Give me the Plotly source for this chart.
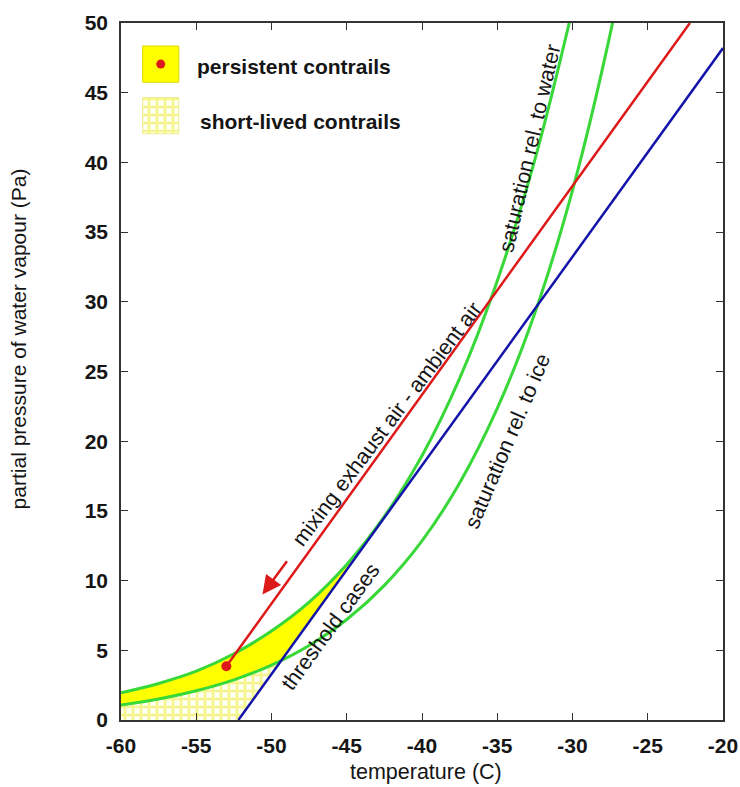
import plotly.graph_objects as go

# ---------------- data ----------------
water_T = [-60, -57.5, -55, -52.5, -50, -47.5, -45, -42.5, -40, -37.5, -35, -32.5, -30]
water_p = [1.95, 2.62, 3.50, 4.75, 6.38, 8.45, 11.15, 14.6, 18.95, 24.5, 31.5, 40.2, 51.0]

ice_T = [-60, -57.5, -55, -52.5, -50, -47.5, -45, -42.5, -40, -37.5, -35, -32.5, -30, -27.5, -25]
ice_p = [1.08, 1.51, 2.10, 2.88, 3.94, 5.35, 7.21, 9.66, 12.85, 17.0, 22.35, 29.2, 38.0, 49.2, 63.0]

mixing_T = [-53.0, -22.2]
mixing_p = [3.85, 50.0]

threshold_T = [-52.2, -20.0]
threshold_p = [0.0, 48.2]

dot_T = [-53.0]
dot_p = [3.85]

arrow_tail = (-48.9, 11.5)
arrow_head = (-50.6, 9.0)

persistent_limit_T = -42.5   # yellow band ends where threshold touches water curve
shortlived_limit_T = -47.5

x_ticks = [-60, -55, -50, -45, -40, -35, -30, -25, -20]
x_ticktext = ["-60", "-55", "-50", "-45", "-40", "-35", "-30", "-25", "-20"]
y_ticks = [0, 5, 10, 15, 20, 25, 30, 35, 40, 45, 50]
y_ticktext = ["0", "5", "10", "15", "20", "25", "30", "35", "40", "45", "50"]

# ---------------- styling ----------------
GREEN = "#38d838"
RED = "#dd1a1a"
BLUE = "#1414aa"
YELLOW = "#ffff00"
FONT = "Liberation Sans, Arial, sans-serif"
INK = "#151515"

fig = go.Figure()

ice_sub_T = [t for t in ice_T if t <= persistent_limit_T]
ice_sub_p = [p for t, p in zip(ice_T, ice_p) if t <= persistent_limit_T]
water_sub_T = [t for t in water_T if t <= persistent_limit_T]
water_sub_p = [p for t, p in zip(water_T, water_p) if t <= persistent_limit_T]
short_T = [t for t in ice_T if t <= shortlived_limit_T]
short_p = [p for t, p in zip(ice_T, ice_p) if t <= shortlived_limit_T]

checker = dict(shape="+", fgcolor="#eeea28", bgcolor="#fffff2", size=8, solidity=0.55)

# short-lived region (below ice saturation)
fig.add_trace(go.Scatter(x=short_T, y=short_p, mode="lines", line=dict(width=0, shape="spline"),
                         fill="tozeroy", fillcolor="#fffff2", fillpattern=checker,
                         hoverinfo="skip", showlegend=False))
# persistent region: ice -> water
fig.add_trace(go.Scatter(x=ice_sub_T, y=ice_sub_p, mode="lines", line=dict(width=0, shape="spline"),
                         hoverinfo="skip", showlegend=False))
fig.add_trace(go.Scatter(x=water_sub_T, y=water_sub_p, mode="lines", line=dict(width=0, shape="spline"),
                         fill="tonexty", fillcolor=YELLOW, hoverinfo="skip", showlegend=False))
# mask: everything warmer than the threshold line
fig.add_trace(go.Scatter(x=threshold_T + [threshold_T[-1]], y=threshold_p + [threshold_p[0]],
                         mode="lines", line=dict(width=0), fill="toself", fillcolor="white",
                         hoverinfo="skip", showlegend=False))

# curves
fig.add_trace(go.Scatter(x=water_T, y=water_p, mode="lines",
                         line=dict(color=GREEN, width=3, shape="spline"), showlegend=False))
fig.add_trace(go.Scatter(x=ice_T, y=ice_p, mode="lines",
                         line=dict(color=GREEN, width=3, shape="spline"), showlegend=False))
fig.add_trace(go.Scatter(x=mixing_T, y=mixing_p, mode="lines",
                         line=dict(color=RED, width=2.5), showlegend=False))
fig.add_trace(go.Scatter(x=threshold_T, y=threshold_p, mode="lines",
                         line=dict(color=BLUE, width=2.5), showlegend=False))
fig.add_trace(go.Scatter(x=dot_T, y=dot_p, mode="markers",
                         marker=dict(color=RED, size=10), showlegend=False))

# legend swatches on an overlay axis (0..1 within plot area)
fig.add_trace(go.Scatter(x=[0.036, 0.096, 0.096, 0.036, 0.036], y=[0.915, 0.915, 0.967, 0.967, 0.915],
                         xaxis="x2", yaxis="y2", mode="lines", line=dict(color="#d8d800", width=1),
                         fill="toself", fillcolor=YELLOW, hoverinfo="skip", showlegend=False))
fig.add_trace(go.Scatter(x=[0.066], y=[0.941], xaxis="x2", yaxis="y2", mode="markers",
                         marker=dict(color=RED, size=9), hoverinfo="skip", showlegend=False))
fig.add_trace(go.Scatter(x=[0.036, 0.096, 0.096, 0.036, 0.036], y=[0.841, 0.841, 0.893, 0.893, 0.841],
                         xaxis="x2", yaxis="y2", mode="lines", line=dict(color="#eeea90", width=1),
                         fill="toself", fillcolor="#fffff2", fillpattern=checker,
                         hoverinfo="skip", showlegend=False))

axis_common = dict(showgrid=False, zeroline=False, showline=True, linecolor="#333333", linewidth=1.5,
                   ticks="inside", ticklen=7, tickwidth=1.2, tickcolor="#333333", mirror="ticks",
                   automargin=False,
                   tickfont=dict(family=FONT, size=21, color=INK, weight="bold"))

fig.update_layout(
    width=740, height=787,
    margin=dict(l=121, r=17, t=23, b=67),
    paper_bgcolor="white", plot_bgcolor="white",
    xaxis=dict(range=[-60, -20], tickvals=x_ticks, ticktext=x_ticktext, ticklabelstandoff=6, **axis_common),
    yaxis=dict(range=[0, 50], tickvals=y_ticks, ticktext=y_ticktext, ticklabelstandoff=7, **axis_common),
    xaxis2=dict(overlaying="x", range=[0, 1], visible=False),
    yaxis2=dict(overlaying="y", range=[0, 1], visible=False),
    showlegend=False,
)

txt = dict(family=FONT, size=21.5, color=INK)
ann = [
    dict(x=-32.8, y=41.0, text="saturation rel. to water", textangle=-77),
    dict(x=-34.3, y=20.0, text="saturation rel. to ice", textangle=-67),
    dict(x=-42.3, y=21.2, text="mixing exhaust air - ambient air", textangle=-53),
    dict(x=-46.1, y=6.7, text="threshold cases", textangle=-54),
]
for a in ann:
    fig.add_annotation(xref="x", yref="y", showarrow=False, font=txt, **a)

fig.add_annotation(x=arrow_head[0], y=arrow_head[1], ax=arrow_tail[0], ay=arrow_tail[1],
                   xref="x", yref="y", axref="x", ayref="y", text="", showarrow=True,
                   arrowhead=2, arrowsize=1.5, arrowwidth=2.5, arrowcolor=RED)

bold = dict(family=FONT, size=21, color=INK, weight="bold")
fig.add_annotation(xref="paper", yref="paper", x=0.123, y=0.937, xanchor="left", yanchor="middle",
                   text="persistent contrails", showarrow=False, font=bold)
fig.add_annotation(xref="paper", yref="paper", x=0.128, y=0.858, xanchor="left", yanchor="middle",
                   text="short-lived contrails", showarrow=False, font=bold)
fig.add_annotation(xref="paper", yref="paper", x=0.507, y=-0.0745, xanchor="center", yanchor="middle",
                   text="temperature (C)", showarrow=False, font=dict(family=FONT, size=21.5, color=INK))
fig.add_annotation(xref="paper", yref="paper", x=-0.17, y=0.547, xanchor="center", yanchor="middle",
                   text="partial pressure of water vapour (Pa)", textangle=-90, showarrow=False,
                   font=dict(family=FONT, size=21, color=INK))

fig.write_html("out.html", config={"displayModeBar": False},
               post_script="document.body.style.margin='0';")
